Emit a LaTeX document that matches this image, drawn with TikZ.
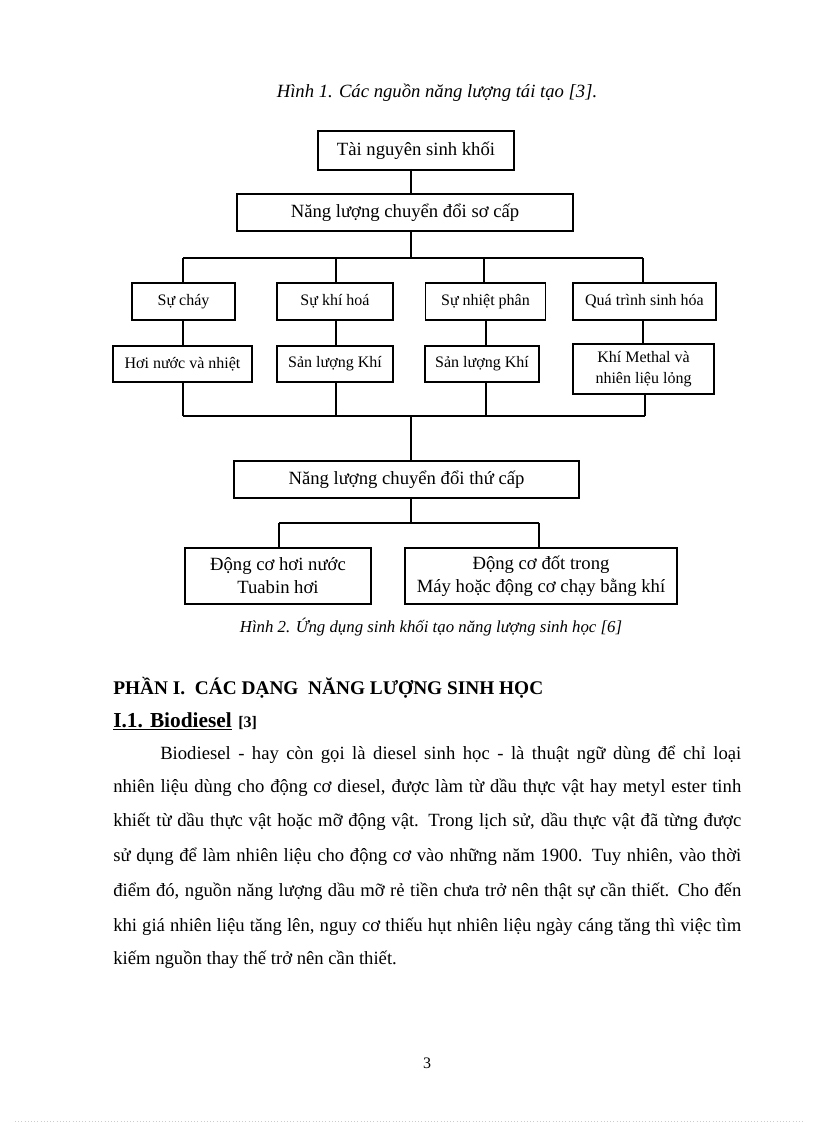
\documentclass[tikz,border=0pt]{standalone}
\usepackage{fontspec}
\setmainfont{Liberation Serif}
\newlength\pxu
\setlength\pxu{0.75pt}
\begin{document}
\begin{tikzpicture}[x=0.75pt,y=-0.75pt,
  bigbox/.style={draw, line width=0.8pt, inner sep=0pt, align=center, font=\fontsize{14}{17.25}\selectfont},
  smallbox/.style={draw, line width=0.8pt, inner sep=0pt, align=center, font=\fontsize{12}{15.75}\selectfont},
  link/.style={line width=0.8pt},
  figcap/.style={inner sep=0pt, anchor=base, font=\fontsize{14}{17}\itshape},
  para/.style={inner sep=0pt, anchor=base west, font=\fontsize{14}{17}\selectfont}]
\useasboundingbox (0,0) rectangle (816,1123);
\fill[white] (0,0) rectangle (816,1123);

% captions
\node[figcap] (cap1) at (437,98) {Hình 1. Các nguồn năng lượng tái tạo [3].};
\node[figcap, font=\fontsize{12.6}{15}\itshape] (cap2) at (431,632) {Hình 2. Ứng dụng sinh khối tạo năng lượng sinh học [6]};

% boxes
\node[bigbox, minimum width=196\pxu, minimum height=39\pxu] (b1) at (416,150.5) {Tài nguyên sinh khối};
\node[bigbox, minimum width=336\pxu, minimum height=37\pxu] (b2) at (405,212.5) {Năng lượng chuyển đổi sơ cấp};

\node[smallbox, minimum width=103\pxu, minimum height=37\pxu] (s1) at (183.5,301.5) {Sự cháy};
\node[smallbox, minimum width=116\pxu, minimum height=37\pxu] (s2) at (335,301.5) {Sự khí hoá};
\node[smallbox, minimum width=120\pxu, minimum height=37\pxu] (s3) at (485.5,301.5) {Sự nhiệt phân};
\node[smallbox, minimum width=143\pxu, minimum height=37\pxu] (s4) at (644.5,301.5) {Quá trình sinh hóa};

\node[smallbox, minimum width=139\pxu, minimum height=36\pxu] (r1) at (182.5,364) {Hơi nước và nhiệt};
\node[smallbox, minimum width=116\pxu, minimum height=36\pxu] (r2) at (335,364) {Sản lượng Khí};
\node[smallbox, minimum width=114\pxu, minimum height=36\pxu] (r3) at (482,364) {Sản lượng Khí};
\node[smallbox, minimum width=141\pxu, minimum height=50\pxu] (r4) at (643.5,369) {Khí Methal và\\nhiên liệu lỏng};

\node[bigbox, minimum width=345\pxu, minimum height=37\pxu] (b3) at (406.5,479.5) {Năng lượng chuyển đổi thứ cấp};
\node[bigbox, minimum width=186\pxu, minimum height=56\pxu] (e1) at (278,576) {Động cơ hơi nước\\Tuabin hơi};
\node[bigbox, minimum width=272\pxu, minimum height=56\pxu] (e2) at (541,576) {Động cơ đốt trong\\Máy hoặc động cơ chạy bằng khí};

% connector coordinates
\coordinate (tk) at (411,0);
\coordinate (c1) at (183,0);
\coordinate (c2) at (336,0);
\coordinate (c3t) at (484,0);
\coordinate (c3) at (486,0);
\coordinate (c4t) at (643,0);
\coordinate (c4) at (645,0);
\coordinate (barT) at (0,258);
\coordinate (barB) at (0,416);
\coordinate (barE) at (0,523);
\coordinate (d1) at (279,0);
\coordinate (d2) at (539,0);

% connectors
\draw[link] (b1.south -| tk) -- (b2.north -| tk);
\draw[link] (b2.south -| tk) -- (tk |- barT);
\draw[link] (c1 |- barT) -- (c4t |- barT);
\draw[link] (c1 |- barT) -- (s1.north -| c1);
\draw[link] (c2 |- barT) -- (s2.north -| c2);
\draw[link] (c3t |- barT) -- (s3.north -| c3t);
\draw[link] (c4t |- barT) -- (s4.north -| c4t);

\draw[link] (s1.south -| c1) -- (r1.north -| c1);
\draw[link] (s2.south -| c2) -- (r2.north -| c2);
\draw[link] (s3.south -| c3) -- (r3.north -| c3);
\draw[link] (s4.south -| c4t) -- (r4.north -| c4t);

\draw[link] (r1.south -| c1) -- (c1 |- barB);
\draw[link] (r2.south -| c2) -- (c2 |- barB);
\draw[link] (r3.south -| c3) -- (c3 |- barB);
\draw[link] (r4.south -| c4) -- (c4 |- barB);
\draw[link] (c1 |- barB) -- (c4 |- barB);
\draw[link] (tk |- barB) -- (b3.north -| tk);

\draw[link] (b3.south -| tk) -- (tk |- barE);
\draw[link] (d1 |- barE) -- (d2 |- barE);
\draw[link] (d1 |- barE) -- (e1.north -| d1);
\draw[link] (d2 |- barE) -- (e2.north -| d2);

% headings
\node[inner sep=0pt, anchor=base west, font=\fontsize{14.5}{17}\bfseries] (h1) at (113,694) {PHẦN I.\ \ CÁC DẠNG\ \ NĂNG LƯỢNG SINH HỌC};
\node[inner sep=0pt, anchor=base west, font=\fontsize{16}{19}\bfseries] (h2) at (113,727) {\underline{I.1. Biodiesel}};
\node[inner sep=0pt, anchor=base west, font=\fontsize{12}{14}\bfseries] (h3) at (238,727) {[3]};

% paragraph
\node[para] (p1) at (160,759) {\makebox[435.75pt][s]{Biodiesel - hay còn gọi là diesel sinh học - là thuật ngữ dùng để chỉ loại}};
\node[para] (p2) at (113,792) {\makebox[471pt][s]{nhiên liệu dùng cho động cơ diesel, được làm từ dầu thực vật hay metyl ester tinh}};
\node[para] (p3) at (113,826) {\makebox[471pt][s]{khiết từ dầu thực vật hoặc mỡ động vật. Trong lịch sử, dầu thực vật đã từng được}};
\node[para] (p4) at (113,861) {\makebox[471pt][s]{sử dụng để làm nhiên liệu cho động cơ vào những năm 1900. Tuy nhiên, vào thời}};
\node[para] (p5) at (113,896) {\makebox[471pt][s]{điểm đó, nguồn năng lượng dầu mỡ rẻ tiền chưa trở nên thật sự cần thiết. Cho đến}};
\node[para] (p6) at (113,931) {\makebox[471pt][s]{khi giá nhiên liệu tăng lên, nguy cơ thiếu hụt nhiên liệu ngày cáng tăng thì việc tìm}};
\node[para] (p7) at (113,964) {kiếm nguồn thay thế trở nên cần thiết.};

% page number and footer rule
\node[inner sep=0pt, font=\fontsize{12}{14}\selectfont] (pg) at (427,1063) {3};
\draw[gray!40, dotted] (15,1121) -- (805,1121);
\end{tikzpicture}
\end{document}
